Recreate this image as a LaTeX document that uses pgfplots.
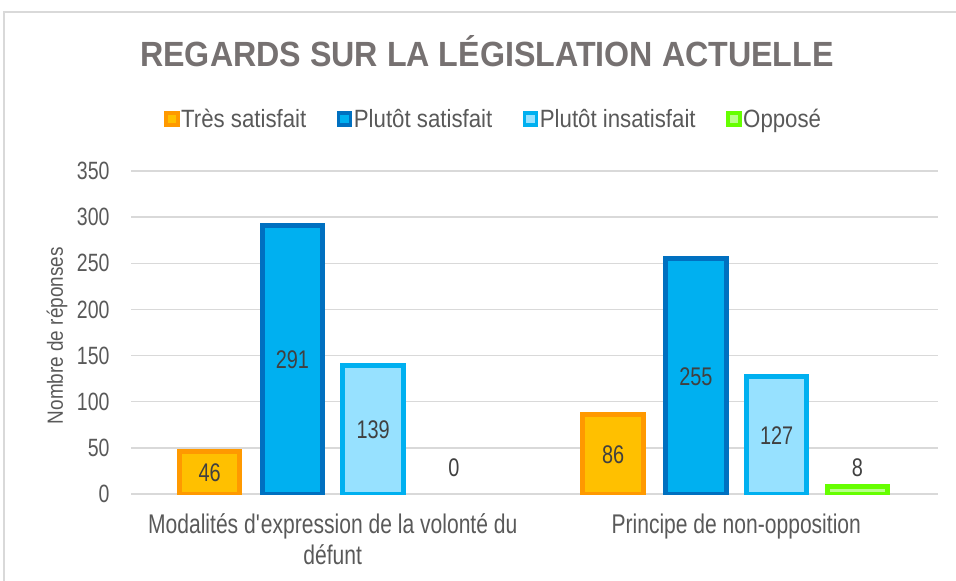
\documentclass[border=0pt]{standalone}
\usepackage{pgfplots}
\pgfplotsset{compat=1.18}
\usepackage{fontspec}
\setmainfont[FakeStretch=0.86]{Liberation Sans}
\newfontfamily\titlefont[FakeStretch=0.92]{Liberation Sans}
\newfontfamily\numfont[FakeStretch=0.78]{Liberation Sans}
\newfontfamily\legfont[FakeStretch=0.89]{Liberation Sans}
\newfontfamily\catfont[FakeStretch=0.78]{Liberation Sans}
\newfontfamily\ylfont[FakeStretch=0.86]{Liberation Sans}
\definecolor{txt}{HTML}{595959}
\definecolor{ttl}{HTML}{767171}
\definecolor{lbl}{HTML}{404040}
\definecolor{gridc}{HTML}{D9D9D9}
\definecolor{orF}{HTML}{FFC000}
\definecolor{orB}{HTML}{FF9900}
\definecolor{dbF}{HTML}{00B0F0}
\definecolor{dbB}{HTML}{0070C0}
\definecolor{lbF}{HTML}{97E1FF}
\definecolor{lbB}{HTML}{00B0F0}
\definecolor{grF}{HTML}{B8FF8A}
\definecolor{grB}{HTML}{66FF00}
\newcommand\dlfont{\numfont\fontsize{25.5}{31}\selectfont}
\begin{document}
\begin{tikzpicture}[x=1pt,y=1pt]
\useasboundingbox (0,0) rectangle (956,-581);
\draw[gridc, line width=1.5pt] (4,-581) -- (4,-12) -- (956,-12);
\node[font=\titlefont\bfseries\fontsize{35}{40}\selectfont, text=ttl] at (487,-51) {REGARDS SUR LA LÉGISLATION ACTUELLE};
\begin{axis}[
  at={(131pt,-494pt)}, anchor=south west,
  scale only axis, width=807pt, height=323pt,
  ybar, bar width=0.15,
  ymin=0, ymax=350, xmin=-0.5, xmax=1.5,
  ytick={0,50,...,350},
  xtick={0,1},
  xticklabels={{Modalités d\textquotesingle expression de la volonté du\\défunt},{Principe de non-opposition}},
  /pgf/number format/assume math mode=true,
  tick label style={text=txt},
  yticklabel style={font=\numfont\fontsize{25}{30}\selectfont, xshift=-18pt},
  xticklabel style={font=\catfont\fontsize{27}{31}\selectfont, align=center, anchor=north, yshift=-16pt},
  major tick length=0pt,
  axis line style={draw=none},
  ymajorgrids, grid style={gridc, line width=1.5pt},
  ylabel={Nombre de réponses},
  every axis y label/.style={at={(axis description cs:-0.0917,0.49)}, rotate=90, anchor=center,
    font=\ylfont\fontsize{22}{26}\selectfont, text=txt},
  visualization depends on=y \as \rawy,
  legend columns=4,
  legend style={at={(0.449,1.161)}, anchor=center, draw=none, fill=none,
    font=\legfont\fontsize{25}{30}\selectfont, text=txt,
    nodes={inner sep=1.5pt},
    /tikz/every even column/.append style={column sep=29pt}},
  legend image code/.code={\draw[#1, line width=3.5pt] (0pt,-6pt) rectangle (12pt,6pt);},
]
\addplot[fill=orF, draw=orB, line width=5pt, bar shift=-0.305,
  nodes near coords, nodes near coords style={font=\dlfont, text=lbl, anchor=center, shift={(axis direction cs:0,-\rawy/2)}}]
  coordinates {(0,46) (1,86)};
\addlegendentry{Très satisfait}
\addplot[fill=dbF, draw=dbB, line width=5pt, bar shift=-0.1,
  nodes near coords, nodes near coords style={font=\dlfont, text=lbl, anchor=center, shift={(axis direction cs:0,-\rawy/2)}}]
  coordinates {(0,291) (1,255)};
\addlegendentry{Plutôt satisfait}
\addplot[fill=lbF, draw=lbB, line width=5pt, bar shift=0.1,
  nodes near coords, nodes near coords style={font=\dlfont, text=lbl, anchor=center, shift={(axis direction cs:0,-\rawy/2)}}]
  coordinates {(0,139) (1,127)};
\addlegendentry{Plutôt insatisfait}
\addplot[fill=grF, draw=grB, line width=5pt, bar shift=0.3,
  y filter/.expression={y==0 ? nan : y}]
  coordinates {(0,0) (1,8)};
\addlegendentry{Opposé}
\addplot[draw=none, fill=none, bar shift=0.3, forget plot,
  nodes near coords, nodes near coords style={font=\dlfont, text=lbl, anchor=center, shift={(axis direction cs:0,28-\rawy)}}]
  coordinates {(0,0) (1,8)};
\end{axis}
\end{tikzpicture}
\end{document}
